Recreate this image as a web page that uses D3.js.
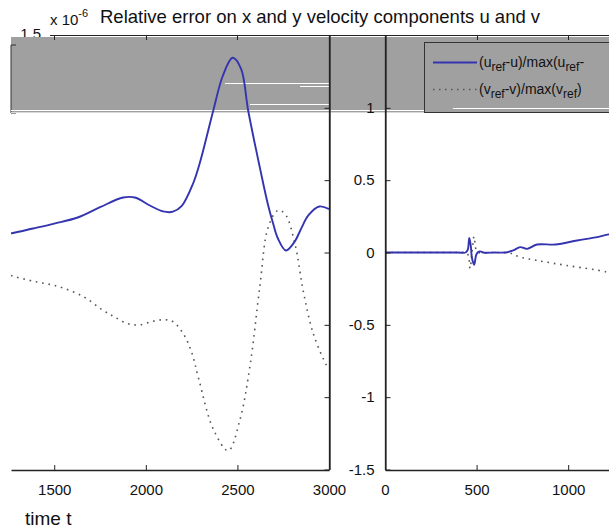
<!DOCTYPE html>
<html>
<head>
<meta charset="utf-8">
<script src="https://cdn.jsdelivr.net/npm/d3@7"></script>
<style>
  body { margin: 0; background: #fff; }
  svg { display: block; font-family: "Liberation Sans", Arial, sans-serif; }
</style>
</head>
<body>
<svg id="chart" width="609" height="532"></svg>
<script>
// values in units of 1e-6
var tU = [0, 100, 200, 300, 400, 440, 452, 460, 468, 475, 487, 497, 507, 520, 536, 600, 656, 700, 738, 775, 830, 930, 1049, 1150, 1222,
  1268, 1384, 1500, 1628, 1750, 1876, 1940, 2022, 2094, 2148, 2195, 2258, 2295, 2368, 2420, 2474, 2520, 2559, 2622, 2667, 2695, 2720, 2765, 2810, 2850, 2887, 2947, 3000];
var uErr = [0, 0, 0, 0, 0, 0, 0.02, 0.10, 0.05, -0.04, -0.085, -0.02, 0.002, 0.008, 0, 0, 0, 0.015, 0.037, 0.025, 0.055, 0.055, 0.083, 0.105, 0.125,
  0.133, 0.166, 0.2, 0.242, 0.313, 0.38, 0.38, 0.325, 0.284, 0.282, 0.32, 0.477, 0.62, 0.98, 1.22, 1.346, 1.27, 0.98, 0.59, 0.33, 0.2, 0.1, 0.014, 0.07, 0.17, 0.256, 0.318, 0.30];

var tV = [0, 400, 440, 455, 464, 475, 486, 497, 510, 600, 693, 728, 830, 994, 1213,
  1276, 1384, 1522, 1658, 1762, 1831, 1904, 1968, 2040, 2095, 2144, 2204, 2250, 2290, 2368, 2450, 2513, 2568, 2622, 2668, 2720, 2760, 2814, 2859, 2914, 2987, 3000];
var vErr = [0, 0, 0, -0.02, -0.11, 0, 0.11, 0.02, 0, 0, -0.007, -0.028, -0.055, -0.09, -0.136,
  -0.164, -0.198, -0.235, -0.304, -0.396, -0.447, -0.493, -0.5, -0.475, -0.465, -0.475, -0.56, -0.69, -0.88, -1.22, -1.37, -1.16, -0.79, -0.24, 0.175, 0.29, 0.267, 0.06, -0.263, -0.56, -0.78, -0.80];

var leftTicks = [1500, 2000, 2500, 3000];
var rightTicks = [0, 500, 1000];
var yTicks = [-1.5, -1, -0.5, 0, 0.5, 1];

var svg = d3.select("#chart");
var blue = "#3434b0";
var fontFam = "Liberation Sans, Arial, sans-serif";

var xL = d3.scaleLinear().domain([1264, 3000]).range([11, 329]);
var xR = d3.scaleLinear().domain([0, 1225]).range([385, 609.4]);
var y = d3.scaleLinear().domain([-1.5, 1.5]).range([469.5, 35.5]);

var defs = svg.append("defs");
defs.append("clipPath").attr("id", "clipL").append("rect")
  .attr("x", 11).attr("y", 30).attr("width", 318).attr("height", 440);
defs.append("clipPath").attr("id", "clipR").append("rect")
  .attr("x", 385).attr("y", 30).attr("width", 224).attr("height", 440);

// title
svg.append("text").attr("x", 100).attr("y", 23).attr("font-size", 18.5).attr("fill", "#111")
  .text("Relative error on x and y velocity components u and v");
var ex = svg.append("text").attr("x", 50).attr("y", 25).attr("font-size", 15).attr("fill", "#111");
ex.append("tspan").text("x 10");
ex.append("tspan").attr("dy", -8).attr("font-size", 11).text("-6");

// 1.5 label that sits half under the grey band
svg.append("text").attr("x", 41).attr("y", 39).attr("text-anchor", "end")
  .attr("font-size", 15).attr("fill", "#111").text("1.5");

// grey band
svg.append("rect").attr("x", 11).attr("y", 37).attr("width", 598).attr("height", 76).attr("fill", "#a0a0a0");
svg.append("path").attr("d", "M16,45H11V113H16").attr("fill", "none").attr("stroke", "#333");
svg.append("line").attr("x1", 11).attr("x2", 609).attr("y1", 110.5).attr("y2", 110.5).attr("stroke", "#fff");
svg.append("line").attr("x1", 11).attr("x2", 609).attr("y1", 112.5).attr("y2", 112.5).attr("stroke", "#d8d8d8");
svg.append("line").attr("x1", 225).attr("x2", 329).attr("y1", 83.5).attr("y2", 83.5).attr("stroke", "#fff");
svg.append("line").attr("x1", 250).attr("x2", 329).attr("y1", 104.5).attr("y2", 104.5).attr("stroke", "#fff");
svg.append("line").attr("x1", 300).attr("x2", 329).attr("y1", 86.5).attr("y2", 86.5).attr("stroke", "#fff");

// top frame line
svg.append("line").attr("x1", 50).attr("x2", 609).attr("y1", 35.5).attr("y2", 35.5).attr("stroke", "#222");
[1500, 2000, 2500].forEach(function(t) {
  svg.append("line").attr("x1", Math.round(xL(t)) + 0.5).attr("x2", Math.round(xL(t)) + 0.5)
    .attr("y1", 35.5).attr("y2", 40).attr("stroke", "#222");
});
[500, 1000].forEach(function(t) {
  svg.append("line").attr("x1", Math.round(xR(t)) + 0.5).attr("x2", Math.round(xR(t)) + 0.5)
    .attr("y1", 35.5).attr("y2", 40).attr("stroke", "#222");
});

// curves
var lineL = function(ts, vs) {
  return d3.line().x(function(d, i) { return xL(ts[i]); }).y(function(d) { return y(d); })
    .curve(d3.curveCatmullRom)(vs);
};
var lineR = function(ts, vs) {
  return d3.line().x(function(d, i) { return xR(ts[i]); }).y(function(d) { return y(d); })
    .curve(d3.curveCatmullRom)(vs);
};

var gL = svg.append("g").attr("clip-path", "url(#clipL)");
var gR = svg.append("g").attr("clip-path", "url(#clipR)");
[[gL, lineL], [gR, lineR]].forEach(function(p) {
  p[0].append("path").attr("d", p[1](tV, vErr)).attr("fill", "none")
    .attr("stroke", "#555").attr("stroke-width", 1.6).attr("stroke-dasharray", "1.6,4.8");
  p[0].append("path").attr("d", p[1](tU, uErr)).attr("fill", "none")
    .attr("stroke", blue).attr("stroke-width", 1.9);
});

// bottom axes
var axL = d3.axisBottom(xL).tickValues(leftTicks).tickFormat(d3.format("d")).tickSizeInner(-5).tickSizeOuter(0).tickPadding(14);
var axR = d3.axisBottom(xR).tickValues(rightTicks).tickFormat(d3.format("d")).tickSizeInner(-5).tickSizeOuter(0).tickPadding(14);
[axL, axR].forEach(function(ax) {
  var g = svg.append("g").attr("transform", "translate(0,470)").call(ax);
  g.selectAll("text").attr("font-size", 15).attr("fill", "#111").attr("font-family", fontFam);
  g.selectAll("line").attr("stroke", "#222");
  g.select(".domain").attr("stroke", "#222").attr("stroke-width", 1.3);
});

// left panel right edge (box edge with inward ticks)
var edge = svg.append("g").attr("transform", "translate(329.5,0)")
  .call(d3.axisRight(y).tickValues(yTicks).tickSizeInner(-5).tickSizeOuter(0).tickFormat(""));
edge.select(".domain").attr("stroke", "#222").attr("stroke-width", 1.3);
edge.selectAll("line").attr("stroke", "#222");
svg.append("line").attr("x1", 329.5).attr("x2", 329.5).attr("y1", 35).attr("y2", 470).attr("stroke", "#222").attr("stroke-width", 1.3);

// y axis of right panel
var ya = svg.append("g").attr("transform", "translate(385.5,0)")
  .call(d3.axisLeft(y).tickValues(yTicks).tickSizeInner(-5).tickSizeOuter(0).tickPadding(11)
    .tickFormat(function(d) { return String(d); }));
ya.selectAll("text").attr("font-size", 15).attr("fill", "#111").attr("font-family", fontFam);
ya.selectAll("line").attr("stroke", "#222");
svg.append("line").attr("x1", 385.5).attr("x2", 385.5).attr("y1", 35).attr("y2", 470).attr("stroke", "#222").attr("stroke-width", 1.3);

// legend
var lg = svg.append("g");
lg.append("rect").attr("x", 424.5).attr("y", 42.5).attr("width", 200).attr("height", 70)
  .attr("fill", "#a0a0a0").attr("stroke", "#333");
lg.append("line").attr("x1", 453).attr("x2", 609).attr("y1", 108.5).attr("y2", 108.5).attr("stroke", "#fff");
lg.append("line").attr("x1", 433).attr("x2", 477).attr("y1", 62.5).attr("y2", 62.5).attr("stroke", blue).attr("stroke-width", 1.8);
lg.append("line").attr("x1", 433).attr("x2", 477).attr("y1", 89.5).attr("y2", 89.5)
  .attr("stroke", "#555").attr("stroke-width", 1.5).attr("stroke-dasharray", "1.5,4.5");

function legendText(yPos, parts) {
  var t = lg.append("text").attr("x", 479).attr("y", yPos).attr("font-size", 14).attr("fill", "#111");
  parts.forEach(function(p) {
    t.append("tspan").attr("dy", p[1]).attr("font-size", p[1] > 0 ? 12 : null).text(p[0]);
  });
}
legendText(67, [["(u", 0], ["ref", 4], ["-u)/max(u", -4], ["ref", 4], ["-", -4]]);
legendText(94, [["(v", 0], ["ref", 4], ["-v)/max(v", -4], ["ref", 4], [")", -4]]);

// x label
svg.append("text").attr("x", 25).attr("y", 525).attr("font-size", 19).attr("fill", "#111").text("time t");
</script>
</body>
</html>
